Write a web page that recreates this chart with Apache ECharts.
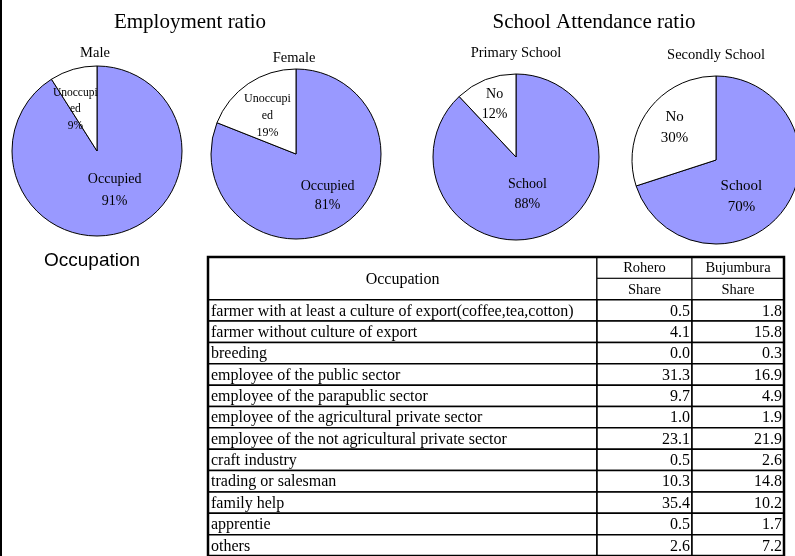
<!DOCTYPE html>
<html>
<head>
<meta charset="utf-8">
<script src="https://cdn.jsdelivr.net/npm/echarts@6/dist/echarts.min.js"></script>
<style>
  html, body { margin: 0; padding: 0; background: #fff; }
  #chart { position: absolute; left: 0; top: 0; width: 795px; height: 556px; }
  .frame { position: absolute; left: 0; top: 0; width: 2px; height: 556px; background: #000; }
</style>
</head>
<body>
<div id="chart"></div>
<div class="frame"></div>
<script>
// pie data
const employLabels = ['Occupied', 'Unoccupied']
const maleShare = [91, 9]
const femaleShare = [81, 19]
const schoolLabels = ['School', 'No']
const primaryShare = [88, 12]
const secondaryShare = [70, 30]

// table data
const occupations = [
  'farmer with at least a culture of export(coffee,tea,cotton)',
  'farmer without culture of export',
  'breeding',
  'employee of the public sector',
  'employee of the parapublic sector',
  'employee of the agricultural private sector',
  'employee of the not agricultural private sector',
  'craft industry',
  'trading or salesman',
  'family help',
  'apprentie',
  'others'
]
const roheroShare = [0.5, 4.1, 0.0, 31.3, 9.7, 1.0, 23.1, 0.5, 10.3, 35.4, 0.5, 2.6]
const bujumburaShare = [1.8, 15.8, 0.3, 16.9, 4.9, 1.9, 21.9, 2.6, 14.8, 10.2, 1.7, 7.2]

const serif = '"Liberation Serif", "Times New Roman", serif'
const pieColors = ['#9999FF', '#FFFFFF']

const chart = echarts.init(document.getElementById('chart'))

// builds one pie; offsets nudge the labels to where excel put them
function makePie(names, values, center, radius, font, lh, smallFont, smallFmt, offsets) {
  return {
    type: 'pie',
    center: center,
    radius: radius,
    startAngle: 90,
    clockwise: true,
    silent: true,
    color: pieColors,
    itemStyle: { borderColor: '#000', borderWidth: 1 },
    label: {
      show: true,
      position: 'inside',
      formatter: '{b}\n{c}%',
      fontFamily: serif,
      fontSize: font,
      lineHeight: lh,
      color: '#000'
    },
    labelLine: { show: false },
    labelLayout: function (p) {
      const o = offsets[p.dataIndex]
      return { dx: o[0], dy: o[1] }
    },
    data: names.map((n, i) => {
      const item = { name: n, value: values[i] }
      if (i === 1 && smallFmt) {
        item.label = { formatter: smallFmt, fontSize: smallFont, lineHeight: smallFont + 5 }
      }
      return item
    })
  }
}

// table layout (column edges in table units, one unit = one pixel)
const colEdges = [0, 389, 484, 576]
const rowKeys = ['h1', 'h2'].concat(occupations)

const cells = []
cells.push({ v: [colEdges[0], colEdges[1], 0, 2], text: 'Occupation', align: 'center', size: 16, lw: 1.5 })
cells.push({ v: [colEdges[1], colEdges[2], 0, 1], text: 'Rohero', align: 'center', size: 14.5, lw: 1 })
cells.push({ v: [colEdges[2], colEdges[3], 0, 1], text: 'Bujumbura', align: 'center', size: 14.5, lw: 1 })
cells.push({ v: [colEdges[1], colEdges[2], 1, 1], text: 'Share', align: 'center', size: 14.5, lw: 1 })
cells.push({ v: [colEdges[2], colEdges[3], 1, 1], text: 'Share', align: 'center', size: 14.5, lw: 1 })
occupations.forEach((o, i) => {
  cells.push({ v: [colEdges[0], colEdges[1], i + 2, 1], text: o, align: 'left', size: 16, lw: 1.5 })
  cells.push({ v: [colEdges[1], colEdges[2], i + 2, 1], text: roheroShare[i].toFixed(1), align: 'right', size: 16, lw: 1.5 })
  cells.push({ v: [colEdges[2], colEdges[3], i + 2, 1], text: bujumburaShare[i].toFixed(1), align: 'right', size: 16, lw: 1.5 })
})
// outer frame
cells.push({ v: [colEdges[0], colEdges[3], 0, rowKeys.length], text: '', align: 'left', size: 16, lw: 2.5, frame: true })

const option = {
  animation: false,
  backgroundColor: '#fff',
  title: [
    { text: 'Employment ratio', left: 190, top: 12 },
    { text: 'School Attendance ratio', left: 594, top: 12 },
    { text: 'Male', left: 95, top: 46, sub: true },
    { text: 'Female', left: 294, top: 51, sub: true },
    { text: 'Primary School', left: 516, top: 46, sub: true },
    { text: 'Secondly School', left: 716, top: 48, sub: true }
  ].map(t => ({
    text: t.text,
    left: t.left,
    top: t.top,
    padding: 0,
    textAlign: 'center',
    textStyle: {
      fontFamily: serif,
      fontWeight: 'normal',
      fontSize: t.sub ? 14.5 : 21,
      color: '#000'
    }
  })).concat([{
    text: 'Occupation',
    left: 44,
    top: 251,
    padding: 0,
    textStyle: { fontFamily: '"Liberation Sans", Arial, sans-serif', fontWeight: 'normal', fontSize: 19, color: '#000' }
  }]),
  grid: { left: 208, top: 257, width: 576, height: 299 },
  xAxis: { type: 'value', min: colEdges[0], max: colEdges[3], show: false },
  yAxis: { type: 'category', data: rowKeys, inverse: true, show: false },
  series: [
    makePie(employLabels, maleShare, [97, 151], 85, 14, 22, 11.5, 'Unoccupi\ned\n{c}%', [[5, -4], [-9, 2]]),
    makePie(employLabels, femaleShare, [296, 154], 85, 14, 19, 12, 'Unoccupi\ned\n{c}%', [[6, 4], [-3, -1]]),
    makePie(schoolLabels, primaryShare, [516, 157], 83, 14, 20, 14, null, [[-5, -4], [-5, -11]]),
    makePie(schoolLabels, secondaryShare, [716, 160], 84, 15, 21, 15, null, [[-11, 10], [-5, -6]]),
    {
      type: 'custom',
      silent: true,
      clip: false,
      encode: { x: [0, 1], y: 2 },
      data: cells.map(c => c.v),
      renderItem: function (params, api) {
        const cell = cells[params.dataIndex]
        const r0 = api.value(2)
        const span = api.value(3)
        const a = api.coord([api.value(0), r0])
        const b = api.coord([api.value(1), r0 + span - 1])
        const bandH = api.size([0, 1])[1]
        const x = a[0]
        const y = a[1] - bandH / 2
        const w = b[0] - a[0]
        const h = b[1] + bandH / 2 - y
        const children = [{
          type: 'rect',
          shape: { x: x, y: y, width: w, height: h },
          style: { fill: cell.frame ? null : '#fff', stroke: '#000', lineWidth: cell.lw },
          z2: cell.frame ? 10 : 0
        }]
        if (cell.text) {
          let tx = x + w / 2
          if (cell.align === 'left') tx = x + 3
          if (cell.align === 'right') tx = x + w - 2
          children.push({
            type: 'text',
            style: {
              text: cell.text,
              x: tx,
              y: y + h / 2 + 1,
              align: cell.align,
              verticalAlign: 'middle',
              fontFamily: serif,
              fontSize: cell.size,
              fill: '#000'
            },
            z2: 5
          })
        }
        return { type: 'group', children: children }
      }
    }
  ]
}

chart.setOption(option)
</script>
</body>
</html>
